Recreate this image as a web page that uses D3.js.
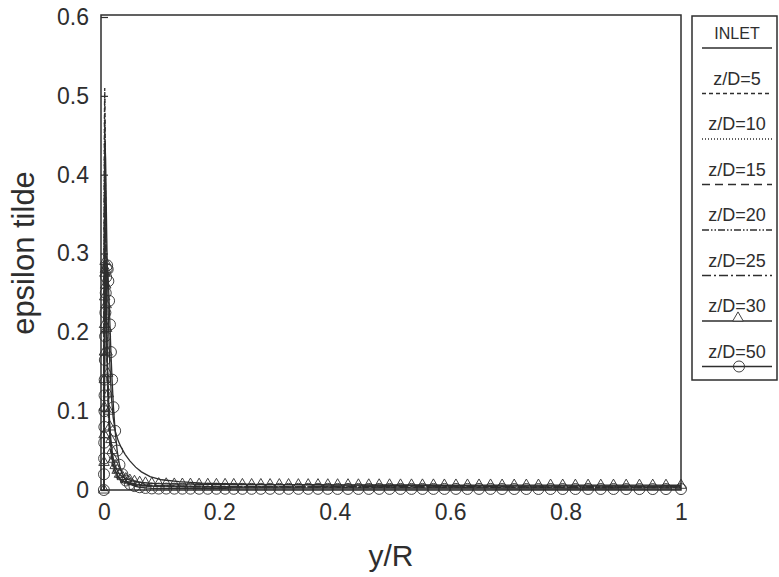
<!DOCTYPE html>
<html>
<head>
<meta charset="utf-8">
<script src="https://cdn.jsdelivr.net/npm/d3@7"></script>
<style>
  body { margin: 0; background: #fff; }
  svg { display: block; font-family: "Liberation Sans", Arial, sans-serif; }
</style>
</head>
<body>
<div id="chart"></div>
<script>
//////////
// DATA //
//////////

// y/R stations used by the plain line profiles
const gridLine = [0, 0.0003, 0.0006, 0.001, 0.0015, 0.002, 0.003, 0.004, 0.005, 0.0065,
  0.008, 0.01, 0.013, 0.016, 0.02, 0.025, 0.03, 0.037, 0.045, 0.055,
  0.065, 0.08, 0.1, 0.13, 0.17, 0.22, 0.3, 0.4, 0.5, 0.6,
  0.7, 0.8, 0.9, 1.0];

const epsInlet = [0, 0.12, 0.22, 0.32, 0.40, 0.44, 0.42, 0.37, 0.32, 0.26,
  0.21, 0.165, 0.118, 0.092, 0.074, 0.062, 0.054, 0.045, 0.037, 0.029,
  0.023, 0.017, 0.013, 0.0105, 0.0088, 0.0077, 0.0068, 0.0062, 0.0058, 0.0055,
  0.0053, 0.0052, 0.0051, 0.0050];
const epsZ5 = [0, 0.2, 0.36, 0.48, 0.51, 0.47, 0.36, 0.26, 0.19, 0.13,
  0.09, 0.06, 0.038, 0.026, 0.018, 0.013, 0.010, 0.008, 0.0068, 0.006,
  0.0055, 0.005, 0.0046, 0.0043, 0.0040, 0.0038, 0.0036, 0.0035, 0.0034, 0.0033,
  0.0033, 0.0032, 0.0032, 0.0032];
const epsZ10 = [0, 0.19, 0.35, 0.46, 0.50, 0.46, 0.36, 0.27, 0.20, 0.14,
  0.10, 0.068, 0.044, 0.03, 0.021, 0.015, 0.0115, 0.009, 0.0075, 0.0065,
  0.0058, 0.0052, 0.0048, 0.0045, 0.0042, 0.004, 0.0038, 0.0037, 0.0036, 0.0035,
  0.0035, 0.0034, 0.0034, 0.0034];
const epsZ15 = [0, 0.17, 0.31, 0.42, 0.47, 0.44, 0.35, 0.27, 0.20, 0.145,
  0.105, 0.074, 0.048, 0.033, 0.023, 0.016, 0.012, 0.0095, 0.008, 0.007,
  0.0062, 0.0055, 0.005, 0.0047, 0.0044, 0.0042, 0.004, 0.0039, 0.0038, 0.0037,
  0.0037, 0.0036, 0.0036, 0.0036];
const epsZ20 = [0, 0.15, 0.28, 0.38, 0.44, 0.42, 0.34, 0.26, 0.195, 0.142,
  0.104, 0.074, 0.049, 0.034, 0.024, 0.017, 0.013, 0.01, 0.0085, 0.0074,
  0.0066, 0.0058, 0.0053, 0.0049, 0.0046, 0.0044, 0.0042, 0.0041, 0.004, 0.0039,
  0.0039, 0.0038, 0.0038, 0.0038];
const epsZ25 = [0, 0.13, 0.25, 0.34, 0.40, 0.39, 0.32, 0.25, 0.19, 0.14,
  0.102, 0.073, 0.049, 0.034, 0.024, 0.017, 0.013, 0.0105, 0.0088, 0.0077,
  0.0068, 0.006, 0.0055, 0.0051, 0.0048, 0.0046, 0.0044, 0.0043, 0.0042, 0.0041,
  0.0041, 0.004, 0.004, 0.004];

// y/R stations of the profiles drawn with symbols
const gridMark = [0, 0.0002, 0.0004, 0.0006, 0.0008, 0.001, 0.0012, 0.0014, 0.0017, 0.0021,
  0.0026, 0.0032, 0.0039, 0.0047, 0.0056, 0.0066, 0.0077, 0.009, 0.0105, 0.0122,
  0.0142, 0.0166, 0.0195, 0.023, 0.027, 0.032, 0.038, 0.045, 0.053, 0.062,
  0.072, 0.083, 0.095, 0.108, 0.122, 0.136, 0.15, 0.165, 0.18, 0.195,
  0.21, 0.225, 0.24, 0.256, 0.272, 0.288, 0.304, 0.32, 0.337, 0.354,
  0.371, 0.388, 0.405, 0.423, 0.441, 0.459, 0.477, 0.495, 0.514, 0.533,
  0.552, 0.571, 0.59, 0.61, 0.63, 0.65, 0.67, 0.69, 0.711, 0.732,
  0.753, 0.774, 0.795, 0.817, 0.839, 0.861, 0.883, 0.905, 0.928, 0.951,
  0.974, 1.0];

const epsZ30 = [0, 0.035, 0.07, 0.105, 0.14, 0.175, 0.21, 0.245, 0.275, 0.29,
  0.28, 0.26, 0.235, 0.205, 0.175, 0.148, 0.122, 0.1, 0.08, 0.064,
  0.05, 0.039, 0.031, 0.025, 0.02, 0.017, 0.0145, 0.0125, 0.011, 0.0098,
  0.009, 0.0084, 0.008, 0.0078, 0.0076, 0.0075, 0.0074, 0.0073, 0.0072, 0.0071,
  0.0071, 0.007, 0.007, 0.0069, 0.0069, 0.0068, 0.0068, 0.0068, 0.0067, 0.0067,
  0.0067, 0.0066, 0.0066, 0.0066, 0.0065, 0.0065, 0.0065, 0.0065, 0.0064, 0.0064,
  0.0064, 0.0064, 0.0063, 0.0063, 0.0063, 0.0063, 0.0063, 0.0062, 0.0062, 0.0062,
  0.0062, 0.0062, 0.0062, 0.0061, 0.0061, 0.0061, 0.0061, 0.0061, 0.0061, 0.0061,
  0.006, 0.006];
const epsZ50 = [0, 0.02, 0.04, 0.06, 0.08, 0.1, 0.12, 0.14, 0.165, 0.195,
  0.225, 0.25, 0.27, 0.28, 0.285, 0.28, 0.265, 0.24, 0.21, 0.175,
  0.14, 0.105, 0.075, 0.05, 0.032, 0.02, 0.012, 0.0075, 0.005, 0.0035,
  0.0026, 0.002, 0.0018, 0.0018, 0.0017, 0.0017, 0.0017, 0.0016, 0.0016, 0.0016,
  0.0016, 0.0015, 0.0015, 0.0015, 0.0015, 0.0015, 0.0015, 0.0015, 0.0015, 0.0015,
  0.0015, 0.0015, 0.0014, 0.0014, 0.0014, 0.0014, 0.0014, 0.0014, 0.0014, 0.0014,
  0.0014, 0.0014, 0.0014, 0.0014, 0.0014, 0.0014, 0.0014, 0.0013, 0.0013, 0.0013,
  0.0013, 0.0013, 0.0013, 0.0013, 0.0013, 0.0013, 0.0013, 0.0012, 0.0012, 0.0012,
  0.0012, 0.0012];

const seriesNames = ["INLET", "z/D=5", "z/D=10", "z/D=15", "z/D=20", "z/D=25", "z/D=30", "z/D=50"];
const xTicks = [0, 0.2, 0.4, 0.6, 0.8, 1];
const yTicks = [0, 0.1, 0.2, 0.3, 0.4, 0.5, 0.6];

// line style for each profile (same order as seriesNames)
const series = [
  { x: gridLine, y: epsInlet, dash: null, marker: null },
  { x: gridLine, y: epsZ5, dash: "4,3", marker: null },
  { x: gridLine, y: epsZ10, dash: "1,2", marker: null },
  { x: gridLine, y: epsZ15, dash: "8,5", marker: null },
  { x: gridLine, y: epsZ20, dash: "7,2,1.5,2,1.5,2", marker: null },
  { x: gridLine, y: epsZ25, dash: "9,3,2,3", marker: null },
  { x: gridMark, y: epsZ30, dash: null, marker: "triangle" },
  { x: gridMark, y: epsZ50, dash: null, marker: "circle" }
].map(function (s, i) { s.name = seriesNames[i]; return s; });

////////////////
// DIMENSIONS //
////////////////

const svgWidth = 779, svgHeight = 577;
const plot = { left: 101, right: 681, top: 15, bottom: 490 };
const ink = "#2e2e2e";

const svg = d3.select("#chart").append("svg")
  .attr("width", svgWidth)
  .attr("height", svgHeight);

const x = d3.scaleLinear().domain([-0.005, 1]).range([plot.left, plot.right]);
const y = d3.scaleLinear().domain([0, 0.6]).range([plot.bottom, plot.top + 2]);

//////////
// AXES //
//////////

const fmt = function (d) { return d === 0 ? "0" : String(d); };

const yAxis = svg.append("g")
  .attr("transform", "translate(" + plot.left + ",0)")
  .call(d3.axisLeft(y).tickValues(yTicks).tickFormat(fmt).tickSize(-7).tickPadding(12));

const xAxis = svg.append("g")
  .attr("transform", "translate(0," + plot.bottom + ")")
  .call(d3.axisBottom(x).tickValues(xTicks).tickFormat(fmt).tickSize(0).tickPadding(13));

[xAxis, yAxis].forEach(function (g) {
  g.select(".domain").remove();
  g.selectAll("line").attr("stroke", ink).attr("stroke-width", 1.2);
  g.selectAll("text").attr("fill", ink).style("font-size", "23px");
});
xAxis.selectAll("text").attr("dy", "0.75em");

// frame
svg.append("rect")
  .attr("x", plot.left)
  .attr("y", plot.top)
  .attr("width", plot.right - plot.left)
  .attr("height", plot.bottom - plot.top)
  .attr("fill", "none")
  .attr("stroke", ink)
  .attr("stroke-width", 1.5);

svg.append("text")
  .attr("transform", "translate(34," + 253 + ") rotate(-90)")
  .attr("text-anchor", "middle")
  .attr("fill", ink)
  .style("font-size", "31px")
  .text("epsilon tilde");

svg.append("text")
  .attr("x", (plot.left + plot.right) / 2)
  .attr("y", 566)
  .attr("text-anchor", "middle")
  .attr("fill", ink)
  .style("font-size", "30px")
  .text("y/R");

////////////
// CURVES //
////////////

const line = d3.line()
  .x(function (d) { return x(d[0]); })
  .y(function (d) { return y(d[1]); });

const triangle = d3.symbol().type(d3.symbolTriangle).size(48);

series.forEach(function (s) {
  const pts = s.x.map(function (v, i) { return [v, s.y[i]]; });

  svg.append("path")
    .datum(pts)
    .attr("d", line)
    .attr("fill", "none")
    .attr("stroke", ink)
    .attr("stroke-width", 1.3)
    .attr("stroke-dasharray", s.dash);

  if (s.marker === "triangle") {
    svg.selectAll(".tri").data(pts).enter().append("path")
      .attr("class", "tri")
      .attr("d", triangle)
      .attr("transform", function (d) { return "translate(" + x(d[0]) + "," + y(d[1]) + ")"; })
      .attr("fill", "none")
      .attr("stroke", ink)
      .attr("stroke-width", 0.9);
  }
  if (s.marker === "circle") {
    svg.selectAll(".circ").data(pts).enter().append("circle")
      .attr("class", "circ")
      .attr("cx", function (d) { return x(d[0]); })
      .attr("cy", function (d) { return y(d[1]); })
      .attr("r", 5.5)
      .attr("fill", "none")
      .attr("stroke", ink)
      .attr("stroke-width", 0.9);
  }
});

////////////
// LEGEND //
////////////

const legend = svg.append("g");

legend.append("rect")
  .attr("x", 692)
  .attr("y", 16)
  .attr("width", 85)
  .attr("height", 364)
  .attr("fill", "#fff")
  .attr("stroke", ink)
  .attr("stroke-width", 1.5);

series.forEach(function (s, i) {
  const ty = 33 + i * 45.5;
  const ly = ty + 15;

  legend.append("text")
    .attr("x", 737)
    .attr("y", ty)
    .attr("dy", "0.35em")
    .attr("text-anchor", "middle")
    .attr("fill", ink)
    .style("font-size", i === 0 ? "16px" : "18px")
    .text(s.name);

  legend.append("line")
    .attr("x1", 702).attr("x2", 772)
    .attr("y1", ly).attr("y2", ly)
    .attr("stroke", ink)
    .attr("stroke-width", 1.4)
    .attr("stroke-dasharray", s.dash);

  if (s.marker === "triangle") {
    legend.append("path")
      .attr("d", triangle)
      .attr("transform", "translate(738," + (ly - 3) + ")")
      .attr("fill", "#fff")
      .attr("stroke", ink)
      .attr("stroke-width", 0.9);
  }
  if (s.marker === "circle") {
    legend.append("circle")
      .attr("cx", 739).attr("cy", ly)
      .attr("r", 5.5)
      .attr("fill", "none")
      .attr("stroke", ink)
      .attr("stroke-width", 0.9);
  }
});
</script>
</body>
</html>
